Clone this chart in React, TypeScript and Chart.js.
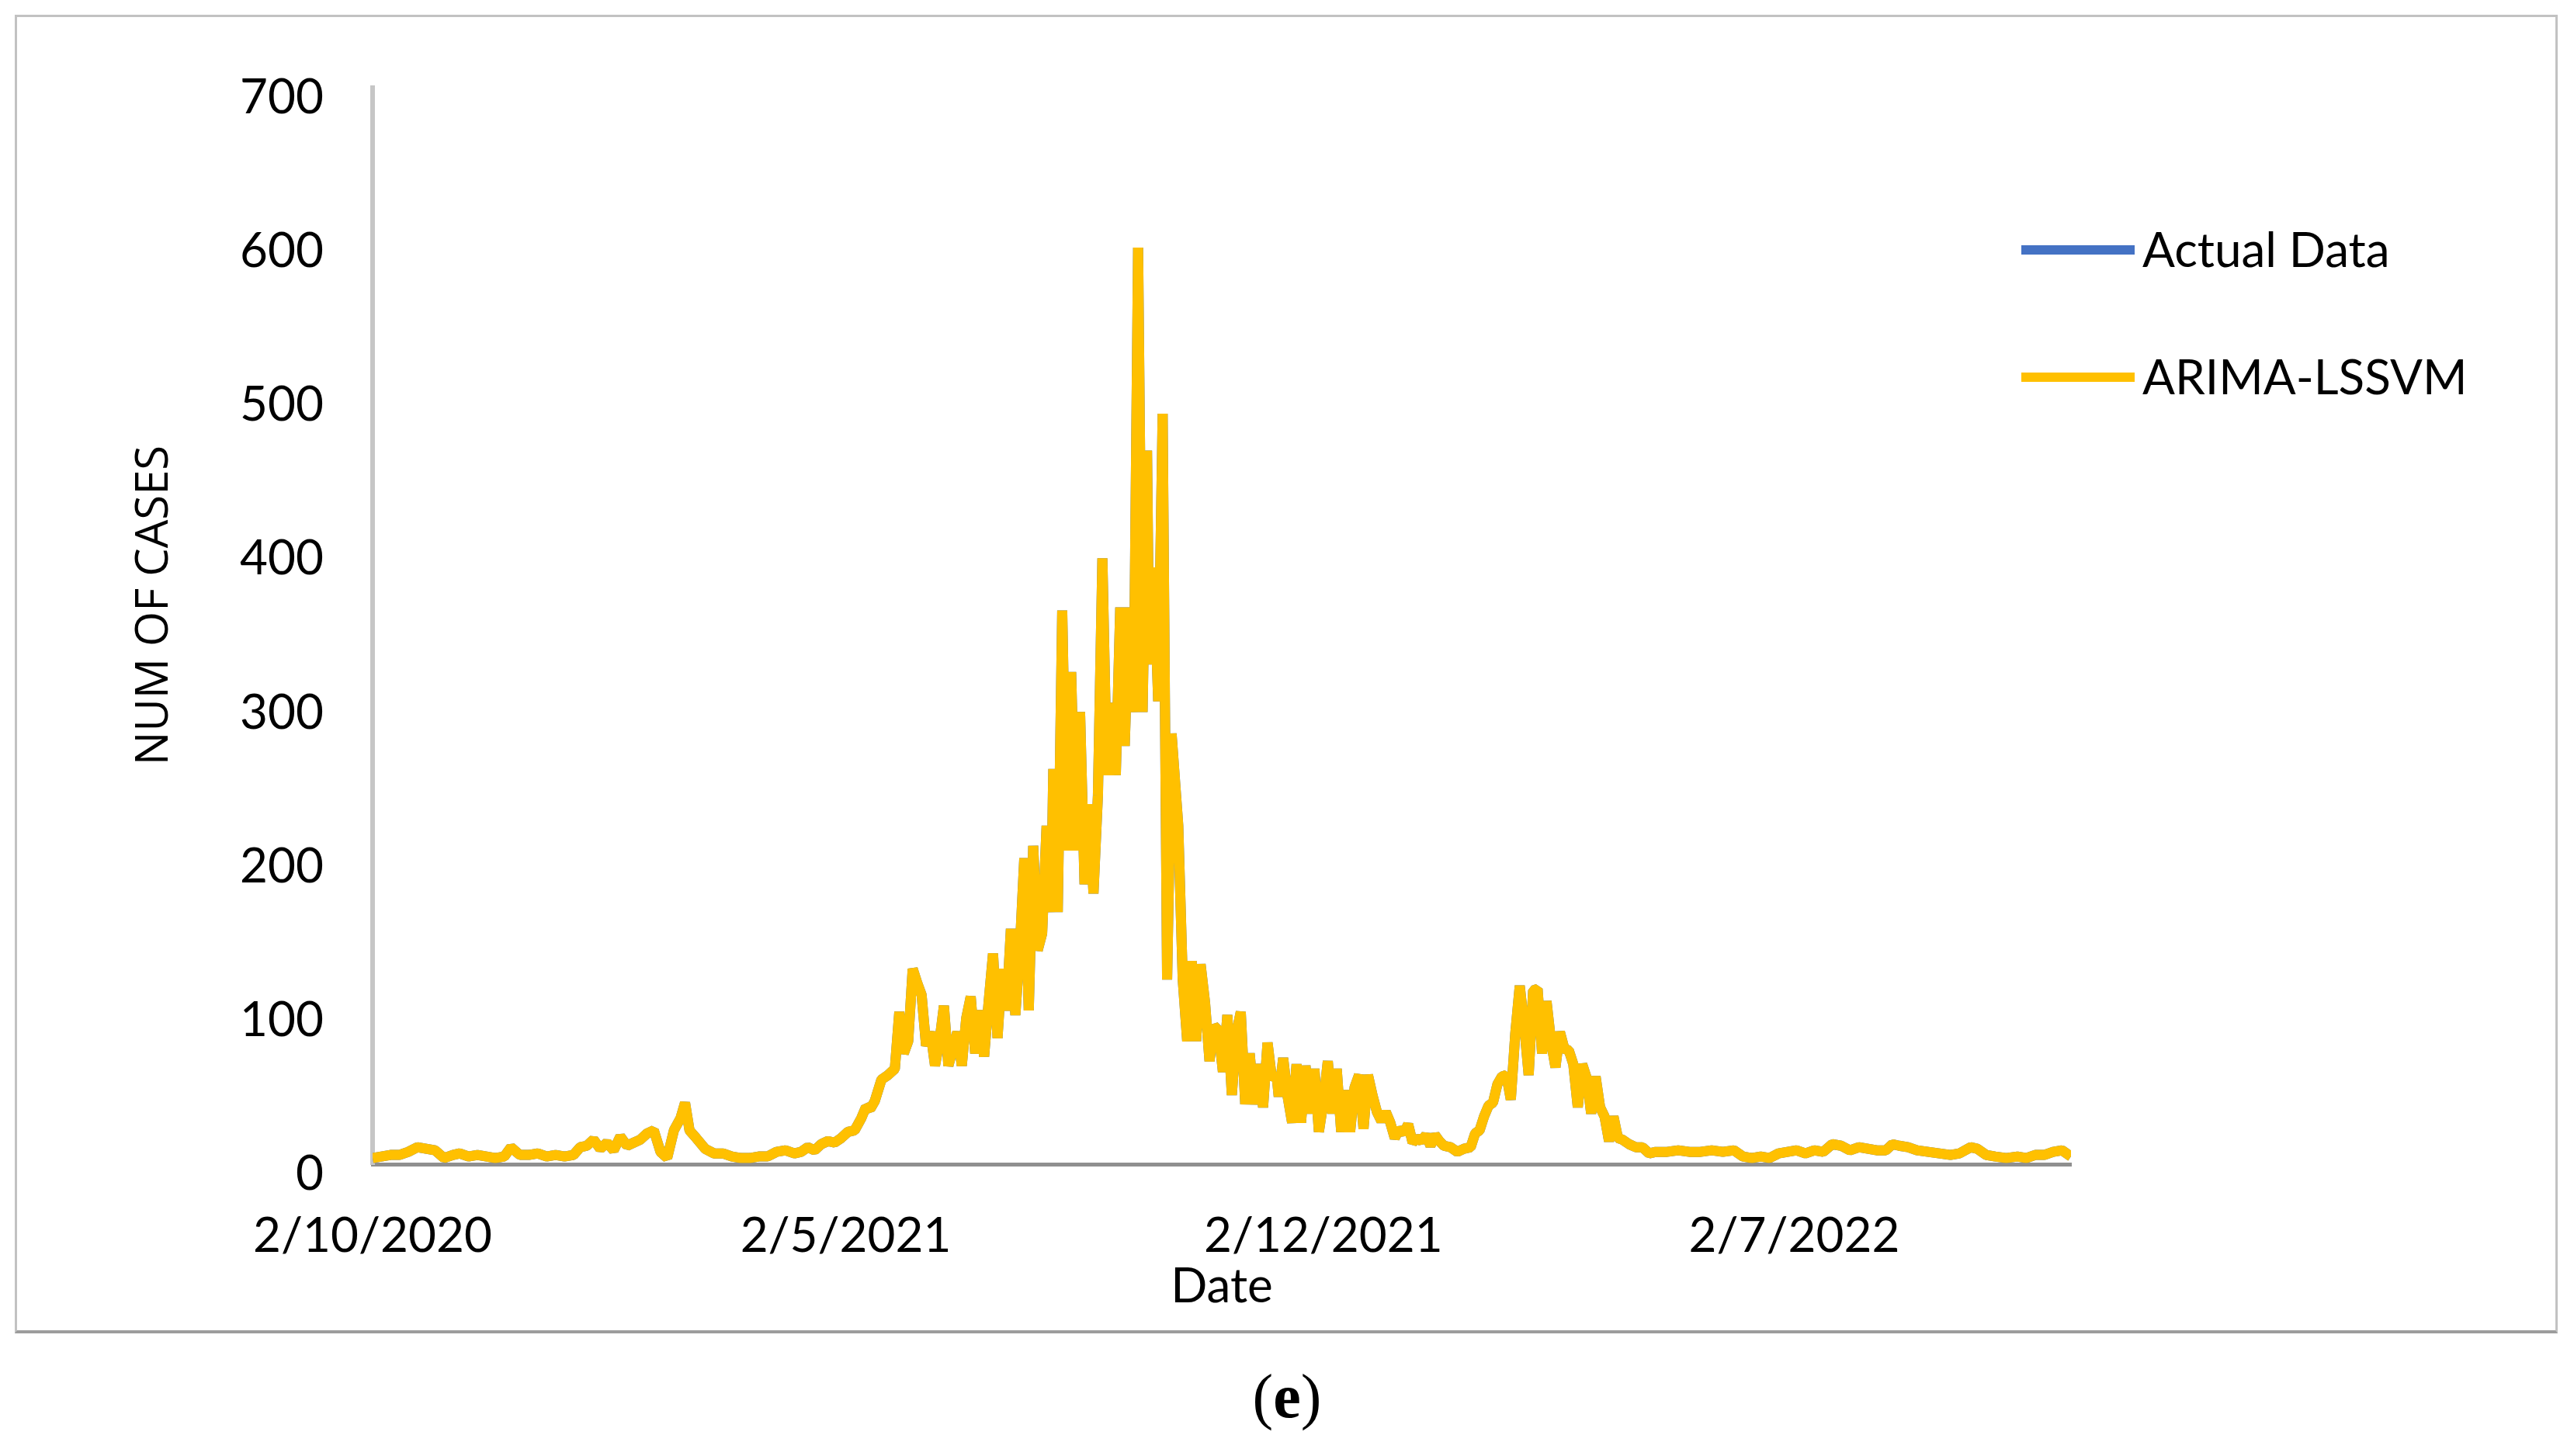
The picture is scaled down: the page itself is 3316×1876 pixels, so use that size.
import React, { useEffect, useRef } from "react";
import { Chart, registerables } from "chart.js";

Chart.register(...registerables);

// Day offsets counted from 2/10/2020 (2 Oct 2020)
const dayOffsets = [
  0, 4, 8, 12, 16, 20, 24, 28, 32, 36, 39, 43, 47, 51, 55, 59, 62, 66, 70, 74,
  78, 82, 86, 90, 93, 96, 99, 102, 105, 108, 111, 114, 117, 120, 123, 126, 129, 132, 135, 138,
  140, 142, 145, 149, 153, 157, 161, 165, 169, 173, 177, 181, 185, 189, 192, 195, 198, 201, 204, 207,
  210, 213, 216, 219, 221, 223, 225, 228, 231, 234, 236, 238, 240, 242, 244, 246, 248, 250, 252, 254,
  256, 258, 260, 262, 264, 266, 268, 270, 272, 274, 276, 278, 280, 282, 284, 286, 288, 290, 292, 294,
  296, 298, 300, 302, 304, 305, 307, 309, 311, 313, 315, 317, 319, 321, 323, 325, 327, 329, 331, 333,
  335, 337, 339, 341, 343, 345, 347, 348, 350, 352, 354, 356, 358, 361, 363, 365, 367, 369, 371, 373,
  375, 377, 379, 381, 383, 385, 387, 389, 391, 393, 395, 397, 399, 401, 403, 405, 406, 408, 410, 412,
  414, 416, 418, 419, 420, 422, 424, 426, 428, 430, 432, 434, 436, 438, 440, 442, 444, 446, 448, 450,
  452, 454, 456, 458, 460, 462, 464, 466, 468, 470, 472, 474, 476, 478, 480, 483, 486, 489, 492, 494,
  496, 498, 500, 502, 504, 506, 508, 510, 512, 514, 516, 518, 520, 522, 524, 526, 528, 530, 532, 534,
  536, 538, 540, 542, 544, 546, 548, 550, 552, 554, 556, 558, 560, 563, 566, 569, 572, 575, 580, 585,
  590, 595, 600, 605, 610, 614, 618, 622, 626, 630, 634, 638, 642, 646, 650, 654, 658, 662, 666, 670,
  674, 678, 681, 684, 688, 692, 697, 702, 707, 711, 716, 719, 723, 727, 732, 737, 741, 745, 749, 753,
  757, 761,
];

const arimaLssvm = [
  4, 5, 6, 6, 8, 11, 10, 9, 4, 6, 7, 5, 6, 5, 4, 5, 11, 6, 6, 7,
  5, 6, 5, 6, 11, 12, 16, 10, 14, 9, 18, 12, 14, 16, 20, 22, 8, 4, 22, 30,
  40, 22, 17, 10, 7, 7, 5, 4, 4, 5, 5, 8, 9, 7, 8, 11, 9, 13, 15, 14,
  17, 21, 22, 30, 37, 36, 41, 55, 58, 62, 99, 72, 80, 127, 118, 110, 77, 86, 64, 80,
  103, 64, 75, 86, 64, 95, 109, 72, 100, 70, 105, 137, 82, 127, 100, 153, 97, 140, 199, 100,
  207, 139, 150, 220, 164, 257, 164, 360, 204, 320, 204, 294, 182, 234, 176, 240, 394, 253, 300, 253,
  362, 272, 362, 294, 596, 294, 464, 325, 388, 301, 488, 120, 280, 220, 120, 80, 132, 80, 130, 105,
  67, 90, 87, 60, 97, 45, 85, 99, 39, 72, 39, 65, 37, 79, 55, 59, 44, 69, 44, 27,
  65, 27, 64, 50, 33, 62, 21, 40, 67, 33, 62, 21, 48, 21, 50, 58, 23, 58, 45, 34,
  28, 34, 27, 17, 23, 20, 26, 14, 17, 15, 19, 12, 19, 15, 12, 11, 8, 10, 11, 20,
  22, 31, 38, 40, 52, 57, 58, 42, 85, 116, 90, 58, 113, 114, 72, 106, 80, 63, 86, 75,
  74, 65, 37, 65, 56, 33, 57, 37, 31, 15, 31, 17, 16, 13, 11, 11, 7, 8, 8, 9,
  8, 8, 9, 8, 9, 5, 4, 5, 4, 7, 8, 9, 7, 9, 8, 13, 12, 9, 11, 10,
  9, 9, 13, 12, 11, 9, 8, 7, 6, 7, 11, 10, 6, 5, 4, 5, 4, 6, 6, 8,
  9, 5,
];

// The actual series lies underneath the forecast and is visually identical to it
const actualData = [
  4, 5, 6, 6, 8, 11, 10, 9, 4, 6, 7, 5, 6, 5, 4, 5, 11, 6, 6, 7,
  5, 6, 5, 6, 11, 12, 16, 10, 14, 9, 18, 12, 14, 16, 20, 22, 8, 4, 22, 30,
  40, 22, 17, 10, 7, 7, 5, 4, 4, 5, 5, 8, 9, 7, 8, 11, 9, 13, 15, 14,
  17, 21, 22, 30, 37, 36, 41, 55, 58, 62, 99, 72, 80, 127, 118, 110, 77, 86, 64, 80,
  103, 64, 75, 86, 64, 95, 109, 72, 100, 70, 105, 137, 82, 127, 100, 153, 97, 140, 199, 100,
  207, 139, 150, 220, 164, 257, 164, 360, 204, 320, 204, 294, 182, 234, 176, 240, 394, 253, 300, 253,
  362, 272, 362, 294, 596, 294, 464, 325, 388, 301, 488, 120, 280, 220, 120, 80, 132, 80, 130, 105,
  67, 90, 87, 60, 97, 45, 85, 99, 39, 72, 39, 65, 37, 79, 55, 59, 44, 69, 44, 27,
  65, 27, 64, 50, 33, 62, 21, 40, 67, 33, 62, 21, 48, 21, 50, 58, 23, 58, 45, 34,
  28, 34, 27, 17, 23, 20, 26, 14, 17, 15, 19, 12, 19, 15, 12, 11, 8, 10, 11, 20,
  22, 31, 38, 40, 52, 57, 58, 42, 85, 116, 90, 58, 113, 114, 72, 106, 80, 63, 86, 75,
  74, 65, 37, 65, 56, 33, 57, 37, 31, 15, 31, 17, 16, 13, 11, 11, 7, 8, 8, 9,
  8, 8, 9, 8, 9, 5, 4, 5, 4, 7, 8, 9, 7, 9, 8, 13, 12, 9, 11, 10,
  9, 9, 13, 12, 11, 9, 8, 7, 6, 7, 11, 10, 6, 5, 4, 5, 4, 6, 6, 8,
  9, 5,
];

const seriesNames = ["Actual Data", "ARIMA-LSSVM"];
const tickDays = [0, 212, 426, 637];
const tickLabels = ["2/10/2020", "2/5/2021", "2/12/2021", "2/7/2022"];
const lastDay = 761;
const yMax = 700;
const yStep = 100;
const yTitle = "NUM OF CASES";
const xTitle = "Date";

const W = 3316;
const H = 1740;

const annotationsPlugin = {
  id: "refLegendAndTitle",
  afterDraw(chart: any) {
    const ctx = chart.ctx;
    ctx.save();
    // y axis title
    ctx.translate(199, 780);
    ctx.rotate(-Math.PI / 2);
    ctx.fillStyle = "#000";
    ctx.font = '58px "Open Sans"';
    ctx.textAlign = "center";
    ctx.textBaseline = "middle";
    ctx.fillText(yTitle, 0, 0);
    ctx.restore();

    // legend
    const rows = [322, 486];
    chart.data.datasets.forEach((ds: any, i: number) => {
      const y = rows[i];
      ctx.save();
      ctx.strokeStyle = ds.borderColor;
      ctx.lineWidth = 12;
      ctx.lineCap = "butt";
      ctx.beginPath();
      ctx.moveTo(2604, y);
      ctx.lineTo(2750, y);
      ctx.stroke();
      ctx.fillStyle = "#000";
      ctx.font = "62px Lato";
      ctx.textAlign = "left";
      ctx.textBaseline = "middle";
      ctx.fillText(ds.label, 2760, y + 2);
      ctx.restore();
    });
  },
};

export default function App() {
  const canvasRef = useRef<HTMLCanvasElement | null>(null);

  useEffect(() => {
    const canvas = canvasRef.current;
    if (!canvas) return;
    const toPoints = (vals: number[]) => dayOffsets.map((d, i) => ({ x: d, y: vals[i] }));
    const chart = new Chart(canvas, {
      type: "line",
      data: {
        datasets: [
          {
            label: seriesNames[0],
            data: toPoints(actualData),
            borderColor: "#4472C4",
            backgroundColor: "#4472C4",
            borderWidth: 13,
            pointRadius: 0,
            tension: 0,
            borderJoinStyle: "bevel",
            order: 1,
          },
          {
            label: seriesNames[1],
            data: toPoints(arimaLssvm),
            borderColor: "#FFC000",
            backgroundColor: "#FFC000",
            borderWidth: 13,
            pointRadius: 0,
            tension: 0,
            borderJoinStyle: "bevel",
            order: 0,
          },
        ],
      },
      options: {
        animation: false,
        responsive: false,
        devicePixelRatio: 1,
        layout: { padding: { left: 0, top: 113, right: W - 2668, bottom: 0 } },
        plugins: {
          legend: { display: false },
          tooltip: { enabled: false },
        },
        scales: {
          x: {
            type: "linear",
            min: 0,
            max: lastDay,
            afterBuildTicks: (scale: any) => {
              scale.ticks = tickDays.map((v) => ({ value: v }));
            },
            afterFit: (scale: any) => {
              scale.height = H - 1500;
            },
            grid: { display: false, drawTicks: false },
            border: { display: true, color: "#8f8f8f", width: 5 },
            ticks: {
              autoSkip: false,
              maxRotation: 0,
              minRotation: 0,
              padding: 56,
              color: "#000",
              font: { family: "Lato", size: 62 },
              callback: (v: any) => {
                const idx = tickDays.indexOf(Number(v));
                return idx >= 0 ? tickLabels[idx] : "";
              },
            },
            title: {
              display: true,
              text: xTitle,
              color: "#000",
              font: { family: "Lato", size: 62 },
              padding: { top: 0, bottom: 45 },
            },
          },
          y: {
            type: "linear",
            min: 0,
            max: yMax,
            afterFit: (scale: any) => {
              scale.width = 480;
            },
            grid: { display: false, drawTicks: false },
            border: { display: true, color: "#c6c6c6", width: 6 },
            ticks: {
              stepSize: yStep,
              padding: 63,
              labelOffset: 13,
              color: "#000",
              font: { family: "Lato", size: 62 },
            },
          },
        },
      },
      plugins: [annotationsPlugin],
    } as any);
    return () => chart.destroy();
  }, []);

  return (
    <div style={{ position: "absolute", left: 0, top: 0, width: W, height: 1876, background: "#fff" }}>
      <div
        style={{
          position: "absolute",
          left: 19,
          top: 19,
          width: 3276,
          height: 1699,
          boxSizing: "border-box",
          border: "3px solid #c2c2c2",
          borderBottom: "4px solid #9c9c9c",
        }}
      />
      <canvas
        ref={canvasRef}
        width={W}
        height={H}
        style={{ position: "absolute", left: 0, top: 0, width: W, height: H }}
      />
      <div
        style={{
          position: "absolute",
          left: 0,
          top: 1754,
          width: W,
          height: 90,
          lineHeight: "90px",
          textAlign: "center",
          fontFamily: '"Liberation Serif", serif',
          fontSize: 80,
          color: "#000",
        }}
      >
        (<b>e</b>)
      </div>
    </div>
  );
}
